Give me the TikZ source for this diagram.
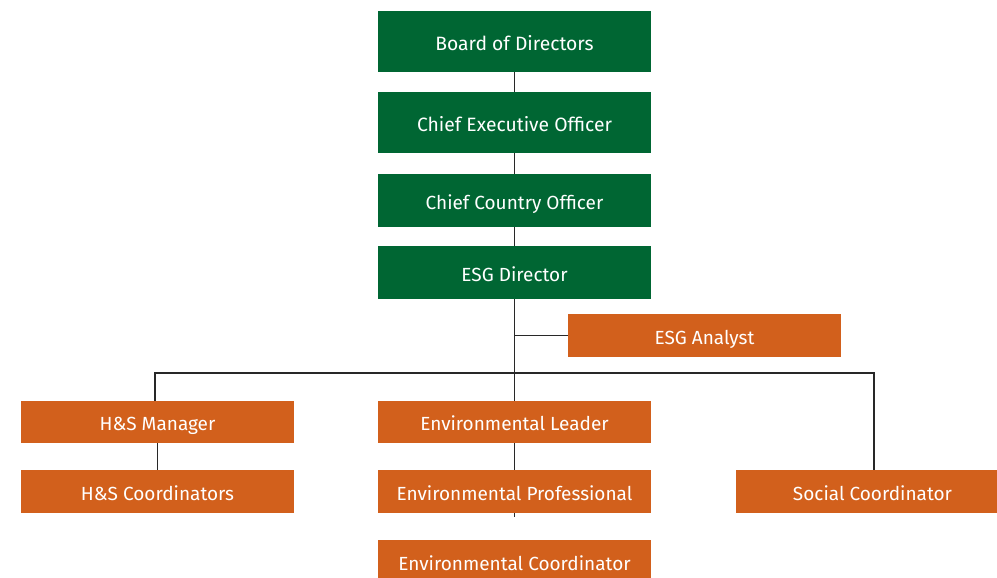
\documentclass[tikz,border=0pt]{standalone}
\usepackage{fontspec}
\setmainfont{Fira Sans}
\definecolor{boxgreen}{RGB}{0,102,51}
\definecolor{boxorange}{RGB}{210,96,28}
\definecolor{linegray}{RGB}{40,40,40}
\begin{document}
\begin{tikzpicture}[x=1pt,y=-1pt,
  gbox/.style={fill=boxgreen,text=white,minimum width=273pt,inner sep=0pt,text height=17pt,text depth=0pt,font=\fontsize{19}{21}\selectfont},
  obox/.style={fill=boxorange,text=white,minimum width=273pt,inner sep=0pt,text height=17pt,text depth=0pt,font=\fontsize{19}{21}\selectfont},
  conn/.style={draw=linegray,line width=1.8pt}]
\useasboundingbox (0,0) rectangle (997,578);
\node[gbox,minimum height=61pt,font=\fontsize{19.3}{21}\selectfont,text height=18pt] (bod) at (514.5,41.5) {Board of Directors};
\node[gbox,minimum height=61pt,font=\fontsize{19.3}{21}\selectfont,text height=18pt] (ceo) at (514.5,122.5) {Chief Executive Officer};
\node[gbox,minimum height=53pt] (cco) at (514.5,200.5) {Chief Country Officer};
\node[gbox,minimum height=53pt] (esgd) at (514.5,272.5) {ESG Director};
\node[obox,minimum height=43pt] (esga) at (704.5,335.5) {ESG Analyst};
\node[obox,minimum height=42pt] (hsm) at (157.5,422) {H\&S Manager};
\node[obox,minimum height=43pt] (hsc) at (157.5,491.5) {H\&S Coordinators};
\node[obox,minimum height=42pt] (envl) at (514.5,422) {Environmental Leader};
\node[obox,minimum height=43pt] (envp) at (514.5,491.5) {Environmental Professional};
\node[obox,minimum height=43pt] (envc) at (514.5,561.5) {Environmental Coordinator};
\node[obox,minimum height=43pt] (soc) at (872.5,491.5) {Social Coordinator};
\coordinate (busL) at (155,373);
\coordinate (busR) at (874,373);
\coordinate (stub) at (514.5,517);
\draw[conn] (bod) -- (ceo);
\draw[conn] (ceo) -- (cco);
\draw[conn] (cco) -- (esgd);
\draw[conn] (esgd) -- (envl);
\draw[conn] (esgd.south |- esga.west) -- (esga.west);
\draw[conn] (busL |- hsm.north) -- (busL) -- (busR) -- (busR |- soc.north);
\draw[conn] (hsm) -- (hsc);
\draw[conn] (envl) -- (envp);
\draw[conn] (envp) -- (stub);
\end{tikzpicture}
\end{document}
